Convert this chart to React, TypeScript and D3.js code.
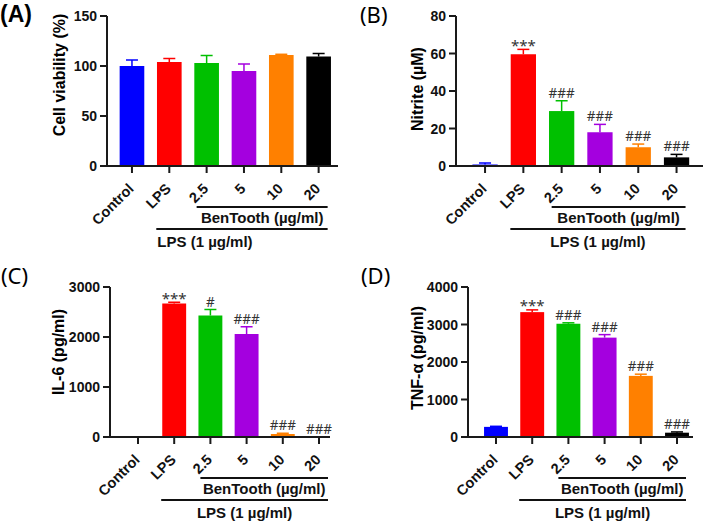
import * as d3 from 'd3'

const categories = ['Control', 'LPS', '2.5', '5', '10', '20']
const barColors = ['#0000ff', '#ff0000', '#00c000', '#a400df', '#ff8000', '#000000']

const viabilityMean = [100, 104, 103, 95, 111, 109.5]
const viabilityErr = [6, 3.5, 7.5, 7, 0.7, 3]
const viabilityTicks = [0, 50, 100, 150]
const viabilityMarks = ['', '', '', '', '', '']

const nitriteMean = [0.8, 59.6, 29.3, 18, 10, 4.6]
const nitriteErr = [0.8, 2.6, 5.5, 4.2, 1.7, 1.6]
const nitriteTicks = [0, 20, 40, 60, 80]
const nitriteMarks = ['', '***', '###', '###', '###', '###']

const il6Mean = [0, 2670, 2430, 2060, 60, 0]
const il6Err = [0, 25, 120, 145, 15, 0]
const il6Ticks = [0, 1000, 2000, 3000]
const il6Marks = ['', '***', '#', '###', '###', '###']

const tnfMean = [270, 3330, 3020, 2650, 1630, 115]
const tnfErr = [15, 60, 25, 80, 45, 20]
const tnfTicks = [0, 1000, 2000, 3000, 4000]
const tnfMarks = ['', '***', '###', '###', '###', '###']

const bold = "'Liberation Sans', Arial, sans-serif"
const plain = "'Noto Sans', sans-serif"

type PanelProps = {
    title: string
    titleBold: boolean
    titleX: number
    titleY: number
    yLabel: string
    labelX: number
    labelY: number
    axisX: number
    axisEnd: number
    bandStart: number
    bandEnd: number
    top: number
    bottom: number
    ticks: number[]
    means: number[]
    errs: number[]
    marks: string[]
    lpsLeft?: boolean
}

function Panel(p: PanelProps) {
    const x = d3.scaleBand().domain(categories).range([p.bandStart, p.bandEnd]).paddingInner(0.34).paddingOuter(0.17)
    const y = d3.scaleLinear().domain([0, p.ticks[p.ticks.length - 1]]).range([p.bottom, p.top])
    const bw = x.bandwidth()
    const cx = (c: string) => x(c)! + bw / 2

    const benStart = cx('2.5') - 10
    const lpsStart = cx('LPS') - 13
    const lineEnd = cx('20') + 9

    return (
        <g>
            <text x={p.titleX} y={p.titleY} fontFamily={p.titleBold ? bold : plain}
                  fontWeight={p.titleBold ? 'bold' : 'normal'} fontSize={p.titleBold ? 23 : 22}>{p.title}</text>

            <text transform={`translate(${p.labelX}, ${p.labelY}) rotate(-90)`}
                  textAnchor='middle' dy='0.35em' fontFamily={bold} fontWeight='bold' fontSize={16}>{p.yLabel}</text>

            {p.means.map((m, i) => (
                <rect key={i} x={x(categories[i])} y={y(m)} width={bw} height={p.bottom - y(m)} fill={barColors[i]} />
            ))}

            {p.means.map((m, i) => {
                if (p.errs[i] <= 0) return null
                const c = cx(categories[i])
                const t = y(m + p.errs[i])
                return (
                    <g key={i} stroke={barColors[i]} strokeWidth={1.5}>
                        <line x1={c} x2={c} y1={y(m)} y2={t} />
                        <line x1={c - 6} x2={c + 6} y1={t} y2={t} />
                    </g>
                )
            })}

            {p.marks.map((s, i) => s ? (
                <text key={i} x={cx(categories[i])} y={y(p.means[i] + p.errs[i]) - 3} textAnchor='middle'
                      fontFamily={plain} fontSize={s === '***' ? 15 : 13.5} fill='#333'
                      dy={s === '***' ? '0.3em' : 0}>{s}</text>
            ) : null)}

            <line x1={p.axisX} x2={p.axisX} y1={p.top} y2={p.bottom} stroke='#1a1a1a' strokeWidth={2} />
            <line x1={p.axisX - 1} x2={p.axisEnd} y1={p.bottom} y2={p.bottom} stroke='#1a1a1a' strokeWidth={2} />

            {p.ticks.map(t => (
                <g key={t}>
                    <line x1={p.axisX - 7} x2={p.axisX} y1={y(t)} y2={y(t)} stroke='#1a1a1a' strokeWidth={2} />
                    <text x={p.axisX - 10} y={y(t)} dy='0.36em' textAnchor='end' fontFamily={bold}
                          fontWeight='bold' fontSize={14} fill='#111'>{t}</text>
                </g>
            ))}

            {categories.map(c => (
                <g key={c}>
                    <line x1={cx(c)} x2={cx(c)} y1={p.bottom} y2={p.bottom + 7} stroke='#1a1a1a' strokeWidth={2} />
                    <text transform={`translate(${cx(c) - 1}, ${p.bottom + 20}) rotate(-45)`} textAnchor='end'
                          dy='0.35em' fontFamily={bold} fontWeight='bold' fontSize={14.5} fill='#111'>{c}</text>
                </g>
            ))}

            <line x1={benStart} x2={lineEnd} y1={p.bottom + 41} y2={p.bottom + 41} stroke='#111' strokeWidth={2} />
            <text x={(benStart + lineEnd) / 2} y={p.bottom + 57} textAnchor='middle' fontFamily={bold}
                  fontWeight='bold' fontSize={15} fill='#111'>BenTooth (µg/ml)</text>
            <line x1={lpsStart} x2={lineEnd} y1={p.bottom + 63} y2={p.bottom + 63} stroke='#111' strokeWidth={2} />
            <text x={p.lpsLeft ? lpsStart + 1 : (lpsStart + lineEnd) / 2} y={p.bottom + 81}
                  textAnchor={p.lpsLeft ? 'start' : 'middle'} fontFamily={bold}
                  fontWeight='bold' fontSize={15} fill='#111'>LPS (1 µg/ml)</text>
        </g>
    )
}

export default function App() {
    return (
        <svg width={705} height={523} style={{ position: 'absolute', left: 0, top: 0, background: '#fff' }}>
            <Panel title='(A)' titleBold titleX={0} titleY={22} yLabel='Cell viability (%)' labelX={59} labelY={75}
                   axisX={107} axisEnd={338} bandStart={113.3} bandEnd={337.3} top={16} bottom={166}
                   ticks={viabilityTicks} means={viabilityMean} errs={viabilityErr} marks={viabilityMarks} lpsLeft />
            <Panel title='(B)' titleBold={false} titleX={360} titleY={23} yLabel='Nitrite (µM)' labelX={417} labelY={89}
                   axisX={456} axisEnd={703} bandStart={465.9} bandEnd={695.7} top={16} bottom={166}
                   ticks={nitriteTicks} means={nitriteMean} errs={nitriteErr} marks={nitriteMarks} />
            <Panel title='(C)' titleBold={false} titleX={1} titleY={284} yLabel='IL-6 (pg/ml)' labelX={58} labelY={352}
                   axisX={110} axisEnd={330} bandStart={119.9} bandEnd={337.1} top={287} bottom={437}
                   ticks={il6Ticks} means={il6Mean} errs={il6Err} marks={il6Marks} />
            <Panel title='(D)' titleBold={false} titleX={361} titleY={284} yLabel='TNF-α (pg/ml)' labelX={417} labelY={358}
                   axisX={468} axisEnd={693} bandStart={477.9} bandEnd={695.1} top={287} bottom={437}
                   ticks={tnfTicks} means={tnfMean} errs={tnfErr} marks={tnfMarks} />
        </svg>
    )
}
